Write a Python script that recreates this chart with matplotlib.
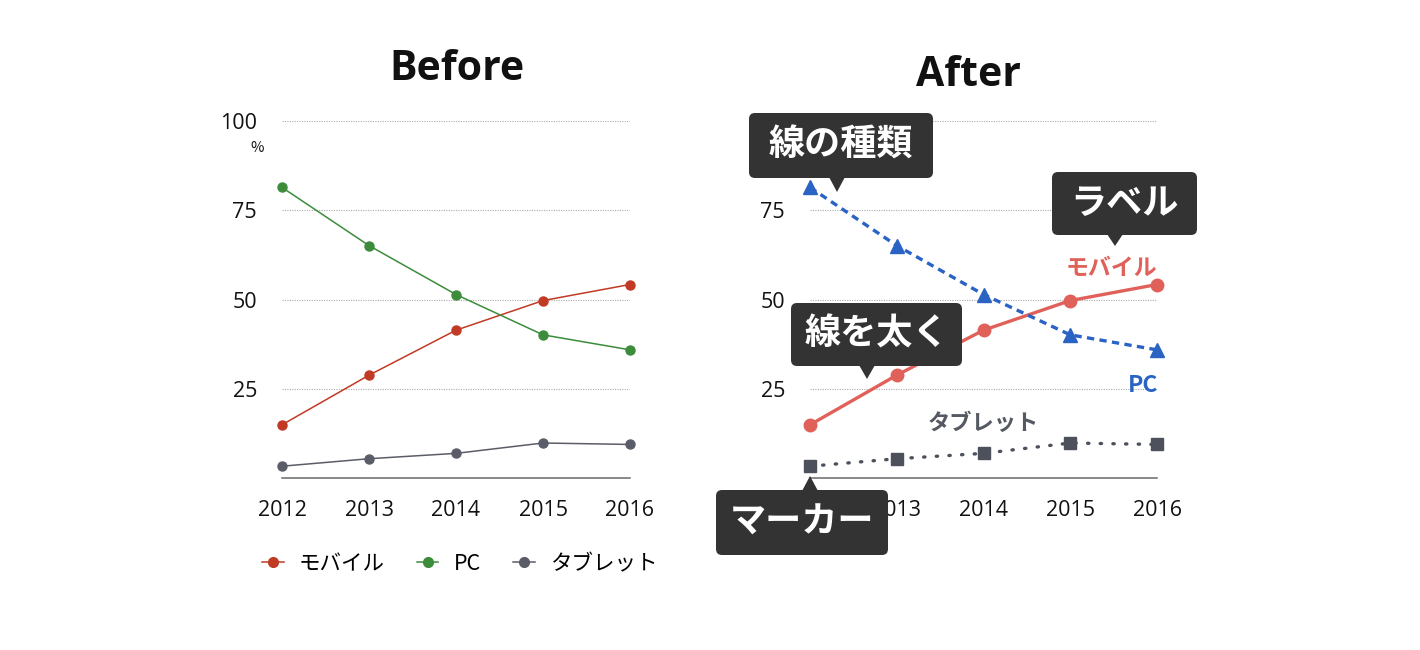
import matplotlib
matplotlib.use("Agg")
import matplotlib.pyplot as plt
from matplotlib.patches import FancyBboxPatch, Polygon
from matplotlib.lines import Line2D

plt.rcParams['font.family'] = ['Noto Sans CJK JP', 'DejaVu Sans']

# ---- data ----
years = [2012, 2013, 2014, 2015, 2016]
mobile = [14.9, 28.8, 41.4, 49.7, 54.2]
pc = [81.4, 65.1, 51.4, 40.1, 35.9]
tablet = [3.3, 5.4, 6.9, 9.8, 9.4]
series_names = ["モバイル", "PC", "タブレット"]
yticks = [25, 50, 75, 100]
titles = ["Before", "After"]
callouts = ["線の種類", "ラベル", "線を太く", "マーカー"]

W, H = 1420, 650
fig = plt.figure(figsize=(W / 100, H / 100), dpi=100)
fig.patch.set_facecolor("white")

TICKFONT = ["Open Sans", "DejaVu Sans"]


def make_axes(left_px, right_px, top_px, bottom_px):
    ax = fig.add_axes([left_px / W, 1 - bottom_px / H,
                       (right_px - left_px) / W, (bottom_px - top_px) / H])
    ax.set_xlim(years[0], years[-1])
    ax.set_ylim(0, 100)
    for s in ["top", "right", "left"]:
        ax.spines[s].set_visible(False)
    ax.spines["bottom"].set_color("#6a6a6a")
    ax.spines["bottom"].set_linewidth(1.1)
    ax.set_yticks(yticks)
    ax.set_yticklabels([str(v) for v in yticks], family=TICKFONT)
    ax.set_xticks(years)
    ax.set_xticklabels([str(y) for y in years], family=TICKFONT)
    ax.tick_params(axis="both", length=0, labelsize=15.5, colors="#111111")
    ax.tick_params(axis="y", pad=18)
    ax.tick_params(axis="x", pad=16)
    ax.yaxis.grid(True, linestyle=(0, (1, 1.2)), color="#aaaaaa", linewidth=0.8)
    ax.set_axisbelow(True)
    ax.patch.set_alpha(0)
    return ax


# ---- Before ----
ax1 = make_axes(282, 630, 121, 478)
c_m1, c_p1, c_t1 = "#C03A24", "#3C8C3C", "#5A5D68"
ax1.plot(years, mobile, color=c_m1, lw=1.1, marker="o", ms=6.5, clip_on=False, zorder=3)
ax1.plot(years, pc, color=c_p1, lw=1.1, marker="o", ms=6.5, clip_on=False, zorder=3)
ax1.plot(years, tablet, color=c_t1, lw=1.1, marker="o", ms=6.5, clip_on=False, zorder=3)
fig.text(457 / W, 1 - 70 / H, titles[0], ha="center", va="center",
         fontsize=29.5, fontweight="bold", family=["Open Sans", "DejaVu Sans"], color="#111111")
fig.text(257 / W, 1 - 148 / H, "%", ha="center", va="center", fontsize=10.5, color="#111111")

handles = [Line2D([0], [0], color=c, lw=1.1, marker="o", ms=7) for c in (c_m1, c_p1, c_t1)]
fig.legend(handles, series_names, loc="center left", bbox_to_anchor=(262 / W, 1 - 564 / H),
           ncol=3, frameon=False, fontsize=15.5, handlelength=1.0, handletextpad=0.7,
           columnspacing=1.5, borderaxespad=0, borderpad=0)

# ---- After ----
ax2 = make_axes(810, 1157, 121, 478)
c_m2, c_p2, c_t2 = "#E0615A", "#2A63C3", "#4C515C"
ax2.plot(years, mobile, color=c_m2, lw=2.4, marker="o", ms=9, clip_on=False, zorder=3)
ax2.plot(years, pc, color=c_p2, lw=2.4, linestyle=(0, (2.2, 1.6)), marker="^", ms=10,
         clip_on=False, zorder=3)
ax2.plot(years, tablet, color=c_t2, lw=2.4, linestyle=(0, (0.4, 3.4)), dash_capstyle="round",
         marker="s", ms=8, clip_on=False, zorder=3)
fig.text(968 / W, 1 - 76 / H, titles[1], ha="center", va="center",
         fontsize=29.5, fontweight="bold", family=["Open Sans", "DejaVu Sans"], color="#111111")

ax2.text(years[-1], mobile[-1] + 4.6, series_names[0], ha="right", va="center",
         color=c_m2, fontsize=16.5, fontweight="bold")
ax2.text(years[-1] + 0.01, pc[-1] - 9.9, series_names[1], ha="right", va="center",
         color=c_p2, fontsize=16.5, fontweight="bold")
ax2.text(2014, tablet[2] + 8.5, series_names[2], ha="center", va="center",
         color="#555a62", fontsize=16, fontweight="bold")

# ---- callouts (overlay in pixel space) ----
ov = fig.add_axes([0, 0, 1, 1], zorder=10)
ov.set_xlim(0, W)
ov.set_ylim(H, 0)
ov.axis("off")
ov.patch.set_alpha(0)


def callout(text, x0, y0, x1, y1, tip_x, tip_y, up=False):
    box = FancyBboxPatch((x0, y0), x1 - x0, y1 - y0,
                         boxstyle="round,pad=0,rounding_size=6",
                         facecolor="#333333", edgecolor="none")
    ov.add_patch(box)
    if up:
        tri = Polygon([(tip_x - 8, y0 + 1), (tip_x + 8, y0 + 1), (tip_x, tip_y)],
                      closed=True, facecolor="#333333", edgecolor="none")
    else:
        tri = Polygon([(tip_x - 8, y1 - 1), (tip_x + 8, y1 - 1), (tip_x, tip_y)],
                      closed=True, facecolor="#333333", edgecolor="none")
    ov.add_patch(tri)
    ov.text((x0 + x1) / 2, (y0 + y1) / 2, text, ha="center", va="center",
            color="white", fontsize=26, fontweight="bold")


callout(callouts[0], 749, 113, 933, 178, 837, 192)
callout(callouts[1], 1052, 172, 1197, 235, 1115, 246)
callout(callouts[2], 791, 303, 962, 366, 867, 379)
callout(callouts[3], 716, 490, 888, 555, 810, 476, up=True)

fig.savefig("out.png", dpi=100, facecolor="white")
